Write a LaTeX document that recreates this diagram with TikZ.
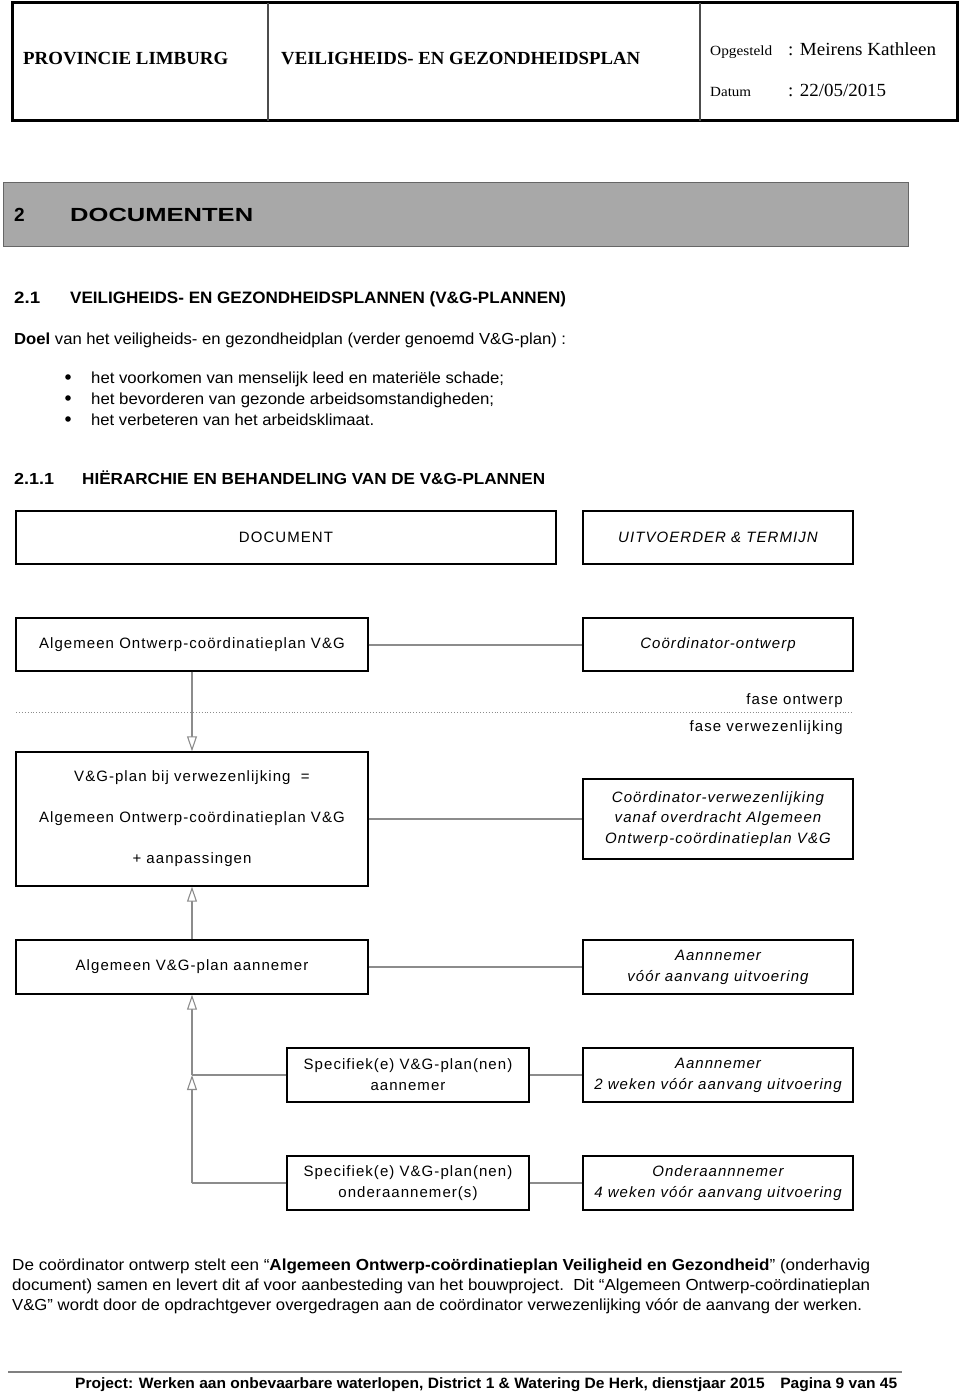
\documentclass[tikz,border=0pt]{standalone}
\usepackage{fontspec}
\usepackage{graphicx}
\setmainfont{Liberation Sans}
\newfontfamily\hdr{Liberation Serif}
\newfontfamily\dgm[LetterSpace=7]{Liberation Sans}
\usetikzlibrary{arrows.meta}
\newcommand\fw[2]{\resizebox{#1}{\height}{#2}}
\definecolor{conn}{gray}{0.55}
\definecolor{barfill}{gray}{0.66}
\begin{document}
\begin{tikzpicture}[x=1pt,y=-1pt,
  txt/.style={inner sep=0pt, anchor=base west},
  box/.style={draw=black, line width=1.4pt, inner sep=0pt, align=center, font=\dgm\fontsize{15}{21}\selectfont},
  wide/.style={box, minimum width=352pt},
  narrow/.style={box, minimum width=270pt},
  mid/.style={box, minimum width=242pt},
  link/.style={draw=conn, line width=2pt},
  tree/.style={draw=conn, line width=1.1pt},
  hollow/.style={-{Triangle[open, length=15pt, width=10pt, fill=white]}}
]
\useasboundingbox (0,0) rectangle (960,1394);
% header
\draw[line width=3pt] (12,3) rectangle (957,121);
\draw[line width=1.2pt, black!70] (268,3) -- (268,121);
\draw[line width=1.2pt, black!70] (700,3) -- (700,121);
\node[txt] (h1) at (23,65) {\hdr\bfseries\fontsize{18.5}{22}\selectfont\fw{205pt}{PROVINCIE LIMBURG}};
\node[txt] (h2) at (281,65) {\hdr\bfseries\fontsize{18.5}{22}\selectfont\fw{359pt}{VEILIGHEIDS- EN GEZONDHEIDSPLAN}};
\node[txt] (h3) at (710,56) {\hdr\fontsize{14}{16}\selectfont\fw{62pt}{Opgesteld}};
\node[txt] (h4) at (788,56) {\hdr\fontsize{18.5}{22}\selectfont\fw{148pt}{: Meirens Kathleen}};
\node[txt] (h5) at (710,97) {\hdr\fontsize{14}{16}\selectfont\fw{41pt}{Datum}};
\node[txt] (h6) at (788,97) {\hdr\fontsize{18.5}{22}\selectfont\fw{98pt}{: 22/05/2015}};
% section bar
\draw[draw=black!60, fill=barfill, line width=1pt] (3,182) rectangle (908,246);
\node[txt] (s1) at (14,221) {\bfseries\fontsize{19}{22}\selectfont 2};
\node[txt] (s2) at (70,221) {\bfseries\fontsize{19}{22}\selectfont\fw{183pt}{DOCUMENTEN}};
\node[txt] (s3) at (14,303) {\bfseries\fontsize{16.5}{20}\selectfont\fw{26pt}{2.1}};
\node[txt] (s4) at (70,303) {\bfseries\fontsize{16.5}{20}\selectfont\fw{496pt}{VEILIGHEIDS- EN GEZONDHEIDSPLANNEN (V\&G-PLANNEN)}};
\node[txt] (p0) at (14,344) {\fontsize{16}{20}\selectfont\fw{552pt}{\textbf{Doel} van het veiligheids- en gezondheidplan (verder genoemd V\&G-plan) :}};
\fill (68,377) circle (2.8pt);
\fill (68,398) circle (2.8pt);
\fill (68,419) circle (2.8pt);
\node[txt] (b1) at (91,383) {\fontsize{16}{20}\selectfont\fw{413pt}{het voorkomen van menselijk leed en materiële schade;}};
\node[txt] (b2) at (91,404) {\fontsize{16}{20}\selectfont\fw{403pt}{het bevorderen van gezonde arbeidsomstandigheden;}};
\node[txt] (b3) at (91,425) {\fontsize{16}{20}\selectfont\fw{283pt}{het verbeteren van het arbeidsklimaat.}};
\node[txt] (s5) at (14,484) {\bfseries\fontsize{16}{20}\selectfont\fw{40pt}{2.1.1}};
\node[txt] (s6) at (82,484) {\bfseries\fontsize{16}{20}\selectfont\fw{463pt}{HIËRARCHIE EN BEHANDELING VAN DE V\&G-PLANNEN}};
% diagram
\node[box, minimum width=540pt, minimum height=53pt] (D) at (286,537.5) {DOCUMENT};
\node[narrow, minimum height=53pt] (U) at (718,537.5) {\itshape UITVOERDER \& TERMIJN};
\node[wide, minimum height=53pt] (A1) at (192,644.5) {Algemeen Ontwerp-coördinatieplan V\&G};
\node[narrow, minimum height=53pt] (C1) at (718,644.5) {\itshape Coördinator-ontwerp};
\node[txt, anchor=base east, font=\dgm\fontsize{15}{21}\selectfont] (f1) at (843,704) {fase ontwerp};
\node[txt, anchor=base east, font=\dgm\fontsize{15}{21}\selectfont] (f2) at (843,731) {fase verwezenlijking};
\draw[draw=conn, dotted, line width=0.9pt] (16,712) -- (853,712);
\node[wide, minimum height=134pt] (A2) at (192,819) {V\&G-plan bij verwezenlijking\ \ =\\[20pt]Algemeen Ontwerp-coördinatieplan V\&G\\[20pt]+ aanpassingen};
\node[narrow, minimum height=80pt, font=\dgm\itshape\fontsize{15}{20.5}\selectfont] (C2) at (718,819) {Coördinator-verwezenlijking\\vanaf overdracht Algemeen\\Ontwerp-coördinatieplan V\&G};
\node[wide, minimum height=54pt] (A3) at (192,967) {Algemeen V\&G-plan aannemer};
\node[narrow, minimum height=54pt, font=\dgm\itshape\fontsize{15}{21}\selectfont] (C3) at (718,967) {Aannnemer\\vóór aanvang uitvoering};
\node[mid, minimum height=54pt] (B4) at (408,1075) {Specifiek(e) V\&G-plan(nen)\\aannemer};
\node[narrow, minimum height=54pt, font=\dgm\itshape\fontsize{15}{21}\selectfont] (C4) at (718,1075) {Aannnemer\\2 weken vóór aanvang uitvoering};
\node[mid, minimum height=54pt] (B5) at (408,1183) {Specifiek(e) V\&G-plan(nen)\\onderaannemer(s)};
\node[narrow, minimum height=54pt, font=\dgm\itshape\fontsize{15}{21}\selectfont] (C5) at (718,1183) {Onderaannnemer\\4 weken vóór aanvang uitvoering};
\coordinate (j1) at (192,1075);
\coordinate (j2) at (192,1183);
% connectors
\draw[link] (A1.east) -- (C1.west);
\draw[link] (A2.east) -- (C2.west);
\draw[link] (A3.east) -- (C3.west);
\draw[link, line width=1.3pt] (B4.east) -- (C4.west);
\draw[link, line width=1.3pt] (B5.east) -- (C5.west);
\draw[tree, hollow] (A1.south) -- (A2.north);
\draw[tree, hollow] (A3.north) -- (A2.south);
\draw[tree] (B4.west) -- (j1);
\draw[tree, hollow] (j1) -- (A3.south);
\draw[tree] (B5.west) -- (j2);
\draw[tree, hollow] (j2) -- (j1);
% closing paragraph
\node[txt] (q1) at (12,1270) {\fontsize{16}{20}\selectfont\fw{858pt}{De coördinator ontwerp stelt een “\textbf{Algemeen Ontwerp-coördinatieplan Veiligheid en Gezondheid}” (onderhavig}};
\node[txt] (q2) at (12,1290) {\fontsize{16}{20}\selectfont\fw{858pt}{document) samen en levert dit af voor aanbesteding van het bouwproject.\ \ Dit “Algemeen Ontwerp-coördinatieplan}};
\node[txt] (q3) at (12,1310) {\fontsize{16}{20}\selectfont\fw{850pt}{V\&G” wordt door de opdrachtgever overgedragen aan de coördinator verwezenlijking vóór de aanvang der werken.}};
% footer
\draw[draw=gray, line width=2pt] (8,1372) -- (902,1372);
\node[txt] (ft) at (75,1388) {\bfseries\fontsize{15}{18}\selectfont\fw{822pt}{Project: Werken aan onbevaarbare waterlopen, District 1 \& Watering De Herk, dienstjaar 2015\quad Pagina 9 van 45}};
\end{tikzpicture}
\end{document}
